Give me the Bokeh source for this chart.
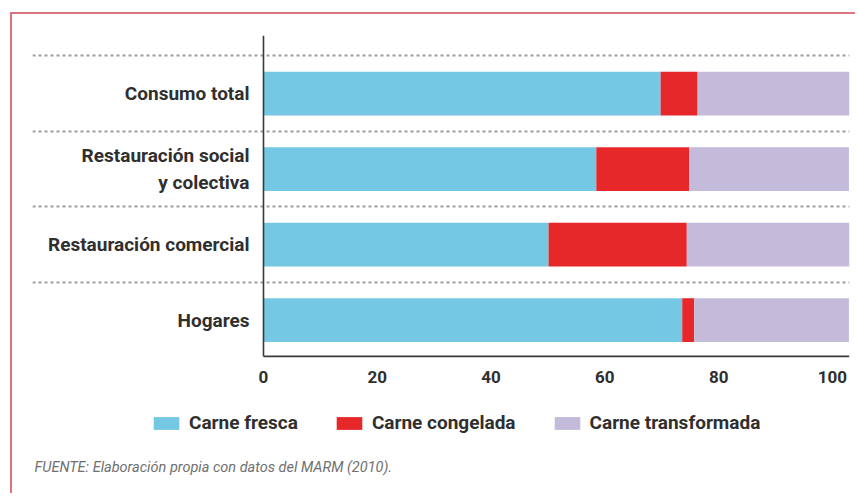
from bokeh.plotting import figure
from bokeh.models import ColumnDataSource, Range1d, FixedTicker, Legend, LegendItem, Label
from bokeh.core.properties import value
from bokeh.embed import file_html
from bokeh.resources import INLINE

# ---- data (index 0 is the bottom bar) ----
categories = ["Hogares", "Restauración comercial", "Restauración social\ny colectiva", "Consumo total"]
carne_fresca = [73.6, 50.1, 58.5, 69.8]
carne_congelada = [2.1, 24.3, 16.3, 6.5]
carne_transformada = [27.2, 28.6, 28.1, 26.7]
series_names = ["Carne fresca", "Carne congelada", "Carne transformada"]
x_ticks = [0, 20, 40, 60, 80, 100]
source_note = "FUENTE: Elaboración propia con datos del MARM (2010)."

colors = ["#74c8e4", "#e6282b", "#c4bbdb"]
FONT = "Roboto"
TXT = "#2f2f2f"
AXIS = "#3a3a3a"

pos = list(range(len(categories)))
src = ColumnDataSource(dict(y=pos, cat=categories,
                            fresca=carne_fresca,
                            congelada=carne_congelada,
                            transformada=carne_transformada))

# layout ranges (frame covers label column, chart and legend/source area)
X_START, X_END = -40.6, 103.0
Y_BASE, Y_END = -0.48, 3.77
Y_START = -2.323

p = figure(width=845, height=481,
           x_range=Range1d(X_START, X_END), y_range=Range1d(Y_START, Y_END),
           output_backend="svg", toolbar_location=None,
           min_border_left=20, min_border_top=21, min_border_right=8, min_border_bottom=0)
p.outline_line_color = None

renderers = p.hbar_stack(["fresca", "congelada", "transformada"], y="y", height=0.58,
                         color=colors, source=src, line_color=None)

# dotted separators between categories
p.xgrid.visible = False
p.ygrid.ticker = FixedTicker(ticks=[i + 0.5 for i in pos])
p.ygrid.grid_line_color = "#a09c98"
p.ygrid.grid_line_width = 2
p.ygrid.grid_line_dash = "3 3"

# axis lines
p.yaxis.visible = False
p.segment(x0=[0, 0], y0=[Y_BASE, Y_BASE], x1=[0, X_END], y1=[Y_END, Y_BASE],
          line_color=AXIS, line_width=1.6)

xa = p.xaxis[0]
xa.fixed_location = Y_BASE
xa.ticker = FixedTicker(ticks=x_ticks)
xa.axis_line_color = None
xa.major_tick_line_color = None
xa.minor_tick_line_color = None
xa.major_label_standoff = 9
xa.major_label_text_font = FONT
xa.major_label_text_font_style = "bold"
xa.major_label_text_font_size = "17px"
xa.major_label_text_color = TXT

# category labels
p.text(x=0, y="y", text="cat", source=src, x_offset=-14,
       text_align="right", text_baseline="middle",
       text_font=value(FONT), text_font_style="bold", text_font_size="19px",
       text_color=TXT, text_line_height=1.15)

legend = Legend(items=[LegendItem(label=n, renderers=[r]) for n, r in zip(series_names, renderers)],
                orientation="horizontal", location=(118, 61),
                glyph_width=32, glyph_height=16, label_standoff=7, spacing=35,
                label_text_font=FONT, label_text_font_style="bold", label_text_font_size="19px",
                label_text_color=TXT, border_line_color=None, background_fill_alpha=0,
                margin=0, padding=0)
p.add_layout(legend, "center")

p.add_layout(Label(x=X_START, y=Y_START, x_offset=2, y_offset=28, text=source_note,
                   text_baseline="middle", text_font=FONT, text_font_style="italic",
                   text_font_size="14.5px", text_color="#707070"))

p.styles = {"border-top": "2px solid #de7480", "border-left": "2px solid #de7480",
            "margin-top": "12px", "margin-left": "10px"}

open("out.html", "w").write(file_html(p, INLINE))
